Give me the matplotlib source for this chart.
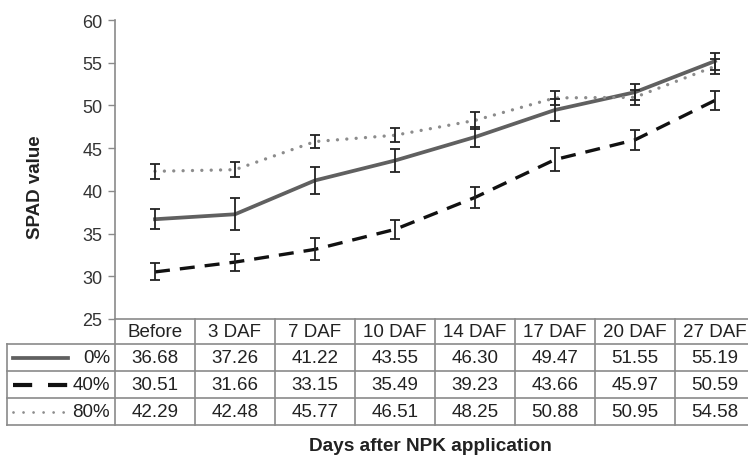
import numpy as np
import matplotlib
matplotlib.use('Agg')
import matplotlib.pyplot as plt
from matplotlib.lines import Line2D

plt.rcParams['font.family'] = ['Liberation Sans', 'DejaVu Sans']

days = ['Before', '3 DAF', '7 DAF', '10 DAF', '14 DAF', '17 DAF', '20 DAF', '27 DAF']
labels = ['0%', '40%', '80%']
spad_0 = [36.68, 37.26, 41.22, 43.55, 46.30, 49.47, 51.55, 55.19]
spad_40 = [30.51, 31.66, 33.15, 35.49, 39.23, 43.66, 45.97, 50.59]
spad_80 = [42.29, 42.48, 45.77, 46.51, 48.25, 50.88, 50.95, 54.58]
err_0 = [1.2, 1.85, 1.6, 1.4, 1.2, 1.3, 0.9, 1.0]
err_40 = [1.0, 1.0, 1.3, 1.1, 1.2, 1.35, 1.2, 1.1]
err_80 = [0.85, 0.9, 0.8, 0.8, 1.0, 0.8, 0.9, 0.9]

W, H = 748, 460
fig = plt.figure(figsize=(W / 100, H / 100), dpi=100)
# axes: left at 115px, bottom at 320px, 80px per column, top at 21px
ax_h_px = 299
ax = fig.add_axes([115 / W, 1 - 320 / H, 640 / W, ax_h_px / H])

x = np.arange(len(days))
styles = [
    dict(color='#606060', lw=2.7, ls='-'),
    dict(color='#111111', lw=2.4, ls=(0, (4.5, 3.0))),
    dict(color='#8c8c8c', lw=2.4, ls=(0, (0.01, 2.8)), dash_capstyle='round'),
]
series = [spad_0, spad_40, spad_80]
errs = [err_0, err_40, err_80]

for vals, st in zip(series, styles):
    ax.plot(x, vals, zorder=2, **st)
for vals, e in zip(series, errs):
    ax.errorbar(x, vals, yerr=e, fmt='none', ecolor='#222222', elinewidth=1.3,
                capsize=3.5, capthick=1.3, zorder=3)

ax.set_xlim(-0.5, 7.5)
ax.set_ylim(25, 60)
ax.set_yticks(np.arange(25, 61, 5))
ax.set_xticks([])
for s in ['top', 'right']:
    ax.spines[s].set_visible(False)
ax.spines['left'].set_color('#8a8a8a')
ax.spines['bottom'].set_color('#8a8a8a')
ax.spines['left'].set_linewidth(1.2)
ax.spines['bottom'].set_linewidth(1.2)
ax.tick_params(axis='y', direction='out', length=5, width=1, color='#8a8a8a',
               labelsize=13, labelcolor='#333333', pad=4)
ax.set_ylabel('SPAD value', fontsize=13.5, fontweight='bold', color='#222222')
ax.yaxis.set_label_coords(-71 / 640, (320 - 187) / ax_h_px)

# table below the axis
tr = ax.get_xaxis_transform()
edges_px = [0, 25, 52, 79, 106]
ye = [-p / ax_h_px for p in edges_px]
lab_left = (7 - 115) / 80 - 0.5
grid_kw = dict(color='#8a8a8a', lw=1.2, transform=tr, clip_on=False)

for y in ye[1:]:
    ax.add_line(Line2D([lab_left, 7.5], [y, y], **grid_kw))
for i in range(len(days) + 1):
    ax.add_line(Line2D([i - 0.5, i - 0.5], [ye[0], ye[-1]], **grid_kw))
ax.add_line(Line2D([lab_left, lab_left], [ye[1], ye[-1]], **grid_kw))

tkw = dict(transform=tr, ha='center', va='center', fontsize=13.5, color='#222222', clip_on=False)
for i, d in enumerate(days):
    ax.text(i, (ye[0] + ye[1]) / 2, d, **tkw)
for r, vals in enumerate(series):
    yc = (ye[r + 1] + ye[r + 2]) / 2
    for i, v in enumerate(vals):
        ax.text(i, yc, f'{v:.2f}', **tkw)
    ax.text(-0.56, yc, labels[r], transform=tr, ha='right', va='center',
            fontsize=13.5, color='#222222', clip_on=False)

legend_styles = [
    dict(color='#606060', lw=2.7, ls='-'),
    dict(color='#111111', lw=3.0, ls=(0, (4.6, 3.8))),
    dict(color='#8c8c8c', lw=2.0, ls=(0, (0.01, 3.6)), dash_capstyle='round'),
]
seg = [(13 - 115) / 80 - 0.5, (68 - 115) / 80 - 0.5]
for r, st in enumerate(legend_styles):
    yc = (ye[r + 1] + ye[r + 2]) / 2
    ax.add_line(Line2D(seg, [yc, yc], transform=tr, clip_on=False, **st))

fig.text(430 / W, 1 - 447 / H, 'Days after NPK application', ha='center', va='center',
         fontsize=13.7, fontweight='bold', color='#222222')

fig.savefig('out.png', dpi=100)
